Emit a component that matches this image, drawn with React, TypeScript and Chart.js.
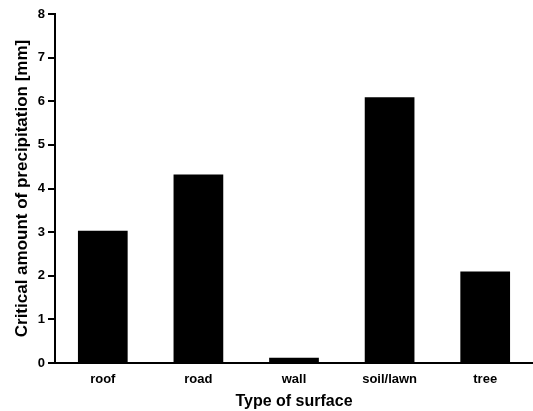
import React, { useEffect, useRef } from "react";
import { Chart, registerables } from "chart.js";

Chart.register(...registerables);

const categories = ["roof", "road", "wall", "soil/lawn", "tree"];
const criticalPrecipitation = [3.03, 4.32, 0.12, 6.09, 2.1];
const yTicks = [0, 1, 2, 3, 4, 5, 6, 7, 8];

export default function App() {
  const ref = useRef<HTMLCanvasElement | null>(null);
  useEffect(() => {
    if (!ref.current) return;
    const font = "'Liberation Sans', Arial, sans-serif";
    const chart = new Chart(ref.current, {
      type: "bar",
      data: {
        labels: categories,
        datasets: [
          {
            data: criticalPrecipitation,
            backgroundColor: "#000",
            borderWidth: 0,
            barPercentage: 0.52,
            categoryPercentage: 1,
          },
        ],
      },
      options: {
        animation: false,
        responsive: false,
        maintainAspectRatio: false,
        layout: { padding: { top: 14, right: 0, left: 0, bottom: 0 } },
        plugins: { legend: { display: false }, tooltip: { enabled: false } },
        scales: {
          x: {
            grid: { display: false },
            border: { display: true, color: "#000", width: 2 },
            ticks: {
              color: "#000",
              font: { family: font, size: 13, weight: "bold" },
              padding: 1,
            },
            title: {
              display: true,
              text: "Type of surface",
              color: "#000",
              font: { family: font, size: 16, weight: "bold" },
              padding: { top: 3, bottom: 0 },
            },
            afterFit: (s: any) => {
              s.height = 48;
            },
          },
          y: {
            min: 0,
            max: 8,
            afterBuildTicks: (s: any) => {
              s.ticks = yTicks.map((v) => ({ value: v }));
            },
            grid: {
              drawOnChartArea: false,
              drawTicks: true,
              tickLength: 7,
              color: "#000",
              lineWidth: 2,
            },
            border: { display: true, color: "#000", width: 2 },
            ticks: {
              color: "#000",
              font: { family: font, size: 13, weight: "bold" },
              padding: 3,
            },
            title: {
              display: true,
              text: "Critical amount of precipitation [mm]",
              color: "#000",
              font: { family: font, size: 17, weight: "bold" },
              padding: { top: 12, bottom: 0 },
            },
            afterFit: (s: any) => {
              s.width = 55;
            },
          },
        },
      },
    });
    return () => chart.destroy();
  }, []);
  return (
    <div style={{ position: "fixed", left: 0, top: 0, width: 533, height: 411, background: "#fff" }}>
      <canvas ref={ref} width={533} height={411} />
    </div>
  );
}
